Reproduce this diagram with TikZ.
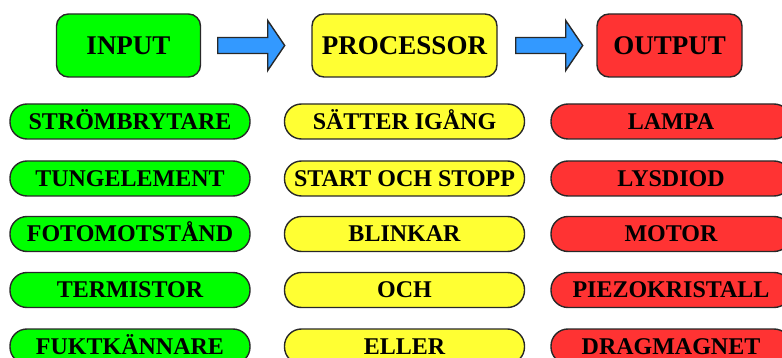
\documentclass[tikz,border=0pt]{standalone}
\usepackage{fontspec}
\setmainfont{Liberation Serif}
\usetikzlibrary{calc}
\definecolor{ingreen}{RGB}{0,255,0}
\definecolor{proyellow}{RGB}{255,255,51}
\definecolor{outred}{RGB}{255,51,51}
\definecolor{arrowblue}{RGB}{51,153,255}
\definecolor{edge}{RGB}{40,40,40}
\begin{document}
\begin{tikzpicture}[x=1pt,y=-1pt,
  hdr/.style={draw=edge, line width=1.4pt, rounded corners=12pt, minimum height=63pt,
    inner sep=0pt, text height=18pt, text depth=0pt, font=\bfseries\fontsize{27}{27}\selectfont},
  pill/.style={draw=edge, line width=1.4pt, rounded corners=17pt, minimum width=240pt,
    minimum height=35pt, inner sep=0pt, text height=15.5pt, text depth=0pt,
    font=\bfseries\fontsize{24}{24}\selectfont},
  gr/.style={pill, fill=ingreen},
  ye/.style={pill, fill=proyellow},
  re/.style={pill, fill=outred},
  blk/.style={fill=arrowblue, draw=edge, line width=1.4pt}]
\useasboundingbox (0,0) rectangle (782,358);
\clip (0,0) rectangle (782,358);
% headers
\node[hdr, fill=ingreen, minimum width=144pt] (in) at (128.5,45.5) {INPUT};
\node[hdr, fill=proyellow, minimum width=185pt] (pr) at (404.5,45.5) {PROCESSOR};
\node[hdr, fill=outred, minimum width=145pt] (out) at (669.5,45.5) {OUTPUT};
% block arrows
\coordinate (a1) at ($(in.east)+(16.5,0)$);
\coordinate (a2) at ($(pr.east)+(18,0)$);
\foreach \a in {a1,a2}{
  \draw[blk] (\a) ++(0,-8) -- ++(50,0) -- ++(0,-17) -- ++(17,25) -- ++(-17,25)
    -- ++(0,-17) -- ++(-50,0) -- cycle;
}
% pills
\node[gr] (g1) at (130,121.5) {STRÖMBRYTARE};
\node[gr] (g2) at (130,178.5) {TUNGELEMENT};
\node[gr] (g3) at (130,234) {FOTOMOTSTÅND};
\node[gr] (g4) at (130,290) {TERMISTOR};
\node[gr] (g5) at (130,346.5) {FUKTKÄNNARE};
\node[ye] (y1) at (404.5,121.5) {SÄTTER IGÅNG};
\node[ye] (y2) at (404.5,178.5) {START OCH STOPP};
\node[ye] (y3) at (404.5,234) {BLINKAR};
\node[ye] (y4) at (404.5,290) {OCH};
\node[ye] (y5) at (404.5,346.5) {ELLER};
\node[re] (r1) at (671,121.5) {LAMPA};
\node[re] (r2) at (671,178.5) {LYSDIOD};
\node[re] (r3) at (671,234) {MOTOR};
\node[re] (r4) at (671,290) {PIEZOKRISTALL};
\node[re] (r5) at (671,346.5) {DRAGMAGNET};
\end{tikzpicture}
\end{document}
